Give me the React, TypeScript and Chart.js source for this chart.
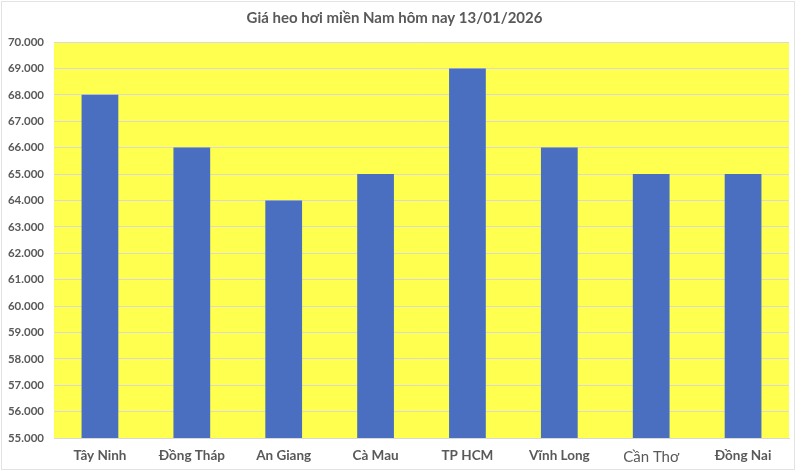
import React, { useEffect, useRef } from "react";
import { Chart, registerables } from "chart.js";

Chart.register(...registerables);

const title = "Giá heo hơi miền Nam hôm nay 13/01/2026";
const categories = ["Tây Ninh", "Đồng Tháp", "An Giang", "Cà Mau", "TP HCM", "Vĩnh Long", "Cần Thơ", "Đồng Nai"];
const prices = [68000, 66000, 64000, 65000, 69000, 66000, 65000, 65000];
const yMin = 55000;
const yMax = 70000;
const yStep = 1000;

const FONT = "Lato, 'Open Sans', 'Noto Sans', sans-serif";

const bgPlugin = {
  id: "bgPlugin",
  beforeDraw(chart: any) {
    const { ctx, chartArea } = chart;
    ctx.save();
    ctx.fillStyle = "#ffffff";
    ctx.fillRect(0, 0, chart.width, chart.height);
    ctx.strokeStyle = "#e3e3e3";
    ctx.lineWidth = 1;
    ctx.strokeRect(1.5, 1.5, 793, 468);
    ctx.fillStyle = "#FFFF4F";
    ctx.fillRect(chartArea.left, chartArea.top, chartArea.right - chartArea.left, chartArea.bottom - chartArea.top);
    ctx.restore();
  },
};

export default function App() {
  const ref = useRef<HTMLCanvasElement>(null);
  useEffect(() => {
    document.body.style.margin = "0";
    const chart = new Chart(ref.current!, {
      type: "bar",
      data: {
        labels: categories,
        datasets: [
          {
            data: prices,
            backgroundColor: "#4A6FC0",
            borderWidth: 0,
            categoryPercentage: 1,
            barPercentage: 0.4,
          },
        ],
      },
      options: {
        animation: false,
        responsive: false,
        maintainAspectRatio: false,
        layout: { padding: { left: 0, right: 11, top: 0, bottom: 0 } },
        plugins: {
          legend: { display: false },
          tooltip: { enabled: false },
          title: {
            display: true,
            text: title,
            color: "#595959",
            font: { family: FONT, size: 15, weight: "bold" },
            padding: { top: 9, bottom: 15 },
          },
        },
        scales: {
          x: {
            grid: { display: false, drawTicks: false },
            border: { display: true, color: "#d9d9d9" },
            ticks: {
              color: "#595959",
              padding: 10,
              font: (ctx: any) =>
                ctx.index === 6
                  ? { family: FONT, size: 15, weight: "normal" }
                  : { family: FONT, size: 13.5, weight: "bold" },
            },
            afterFit: (s: any) => {
              s.height = 34;
            },
          },
          y: {
            min: yMin,
            max: yMax,
            ticks: {
              stepSize: yStep,
              color: "#595959",
              padding: 10,
              font: { family: FONT, size: 11.5, weight: "bold" },
              callback: (v: any) => (Number(v) / 1000).toFixed(3),
            },
            grid: { color: "#d9d9d9", lineWidth: 1, drawTicks: false },
            border: { display: false },
            afterFit: (s: any) => {
              s.width = 54;
            },
          },
        },
      },
      plugins: [bgPlugin],
    });
    return () => chart.destroy();
  }, []);
  return <canvas ref={ref} width={800} height={472} style={{ display: "block" }} />;
}
